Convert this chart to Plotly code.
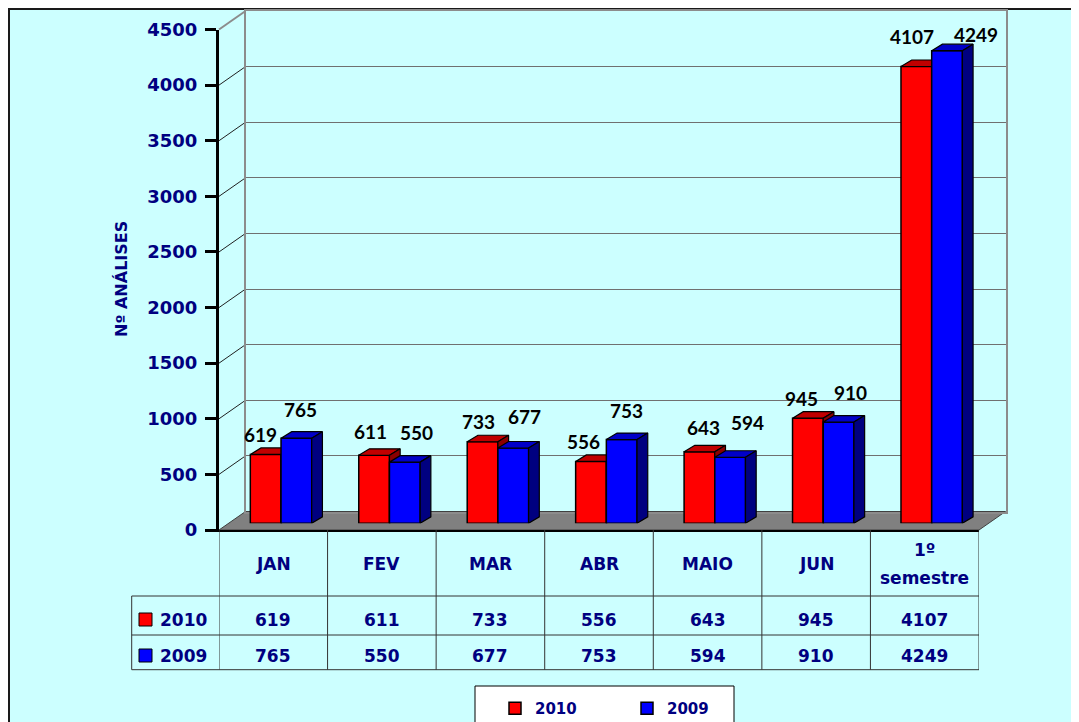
import plotly.graph_objects as go

# page has an 8px body margin; the figure fills the rest of the 1079x722 window
OFF = 8
W, H = 1079 - OFF, 722 - OFF

# ---------------- data ----------------
categories = ["JAN", "FEV", "MAR", "ABR", "MAIO", "JUN", "1º semestre"]
series_names = ["2010", "2009"]
values_2010 = [619, 611, 733, 556, 643, 945, 4107]
values_2009 = [765, 550, 677, 753, 594, 910, 4249]
y_max = 4500
y_step = 500
axis_title = "Nº ANÁLISES"

# label nudges in px (horizontal from bar centre, vertical above bar top)
lab_dx_2010 = [-5, -4, -4, -8, 4, -6, -4]
lab_dy_2010 = [20, 24, 20, 20, 24, 20, 30]
lab_dx_2009 = [4, 12, 11, 5, 17, 12, 29]
lab_dy_2009 = [29, 30, 31, 29, 35, 30, 16]

# ---------------- styles / geometry (window pixels) ----------------
NAVY = "#000080"
BG = "#CCFFFF"
RED, RED_TOP, RED_SIDE = "#FF0000", "#C00000", "#8B0000"
BLUE, BLUE_TOP, BLUE_SIDE = "#0000FF", "#0000C8", "#000080"
TXT = "DejaVu Sans"
LBL = "Lato"


def fx(px):
    return (px - OFF) / W


def fy(py):
    return 1 - (py - OFF) / H


FRONT_L, FRONT_R, FRONT_B, FRONT_T = 219, 979, 530, 29.5
DEPTH_X, DEPTH_Y = 26.5, 18.5
BAR_L, BAR_R, BAR_B = 226.8, 985.9, 523.3
BAR_DX, BAR_DY = 10.7, 6.5
scale = (FRONT_B - FRONT_T) / y_max  # px per unit
BAR_T = BAR_B - y_max * scale
WALL_L, WALL_R = FRONT_L + DEPTH_X, FRONT_R + DEPTH_X
WALL_B, WALL_T = FRONT_B - DEPTH_Y, FRONT_T - DEPTH_Y
n = len(categories)
cat_px = (BAR_R - BAR_L) / n
bar_w = 30.7 / cat_px
ddx = BAR_DX / cat_px
ddy = BAR_DY / scale

TABLE_LEFT = 131.7
ROW_HEAD_B, ROW1_B, ROW2_B = 596, 635, 669.7
HEAD_Y, ROW1_Y, ROW2_Y = 563.5, 619.5, 655.5
HEAD_GAP = 28

fig = go.Figure()

# dummy traces to fix subplot order
fig.add_trace(go.Scatter(x=[None], y=[None], xaxis="x", yaxis="y",
                         showlegend=False, hoverinfo="skip"))
fig.add_trace(go.Scatter(x=[None], y=[None], xaxis="x2", yaxis="y2",
                         showlegend=False, hoverinfo="skip"))


def add_series(vals, name, front, top, side, off, xa, ya):
    fig.add_trace(go.Bar(
        x=list(range(n)), y=vals, width=bar_w, offset=off,
        marker=dict(color=front, line=dict(color="black", width=1.5)),
        name=name, xaxis=xa, yaxis=ya, hoverinfo="skip"))
    for i, v in enumerate(vals):
        xl = i + off
        xr = xl + bar_w
        # top face
        fig.add_trace(go.Scatter(
            x=[xl, xr, xr + ddx, xl + ddx, xl],
            y=[v, v, v + ddy, v + ddy, v],
            mode="lines", fill="toself", fillcolor=top,
            line=dict(color="black", width=1.2),
            xaxis=xa, yaxis=ya, showlegend=False, hoverinfo="skip"))
        # side face
        fig.add_trace(go.Scatter(
            x=[xr, xr, xr + ddx, xr + ddx, xr],
            y=[0, v, v + ddy, ddy, 0],
            mode="lines", fill="toself", fillcolor=side,
            line=dict(color="black", width=1.2),
            xaxis=xa, yaxis=ya, showlegend=False, hoverinfo="skip"))


add_series(values_2010, series_names[0], RED, RED_TOP, RED_SIDE, -bar_w, "x3", "y3")
add_series(values_2009, series_names[1], BLUE, BLUE_TOP, BLUE_SIDE, 0, "x4", "y4")

shapes = []
# background with border
shapes.append(dict(type="rect", xref="paper", yref="paper", layer="below",
                   x0=fx(9), y0=fy(9), x1=fx(1079 + 20), y1=fy(722 + 20),
                   fillcolor=BG, line=dict(color="#1a1a1a", width=2)))
# floor
shapes.append(dict(type="path", xref="paper", yref="paper", layer="below",
                   path=(f"M{fx(FRONT_L)},{fy(FRONT_B)} L{fx(FRONT_R)},{fy(FRONT_B)} "
                         f"L{fx(WALL_R)},{fy(WALL_B)} L{fx(WALL_L)},{fy(WALL_B)} Z"),
                   fillcolor="#808080", line=dict(color="#404040", width=1)))
# side-wall diagonals
for v in range(y_step, y_max + 1, y_step):
    shapes.append(dict(type="line", xref="paper", yref="paper", layer="below",
                       x0=fx(FRONT_L), y0=fy(FRONT_B - v * scale),
                       x1=fx(WALL_L), y1=fy(WALL_B - v * scale),
                       line=dict(color="#8c8c8c" if v == y_max else "#202020",
                                 width=2 if v == y_max else 1)))
# table grid
TL = dict(color="#333333", width=1)
for k in range(n + 1):
    shapes.append(dict(type="line", xref="x2", yref="paper",
                       x0=k - 0.5, x1=k - 0.5, y0=fy(FRONT_B), y1=fy(ROW2_B), line=TL))
shapes.append(dict(type="line", xref="paper", yref="paper",
                   x0=fx(TABLE_LEFT), x1=fx(TABLE_LEFT), y0=fy(ROW_HEAD_B), y1=fy(ROW2_B), line=TL))
for yy in (ROW_HEAD_B, ROW1_B, ROW2_B):
    shapes.append(dict(type="line", xref="paper", yref="paper",
                       x0=fx(TABLE_LEFT), x1=fx(FRONT_R), y0=fy(yy), y1=fy(yy), line=TL))
# table keys
for (yc, col) in ((ROW1_Y, RED), (ROW2_Y, BLUE)):
    shapes.append(dict(type="rect", xref="paper", yref="paper",
                       x0=fx(139), x1=fx(152), y0=fy(yc - 6.5), y1=fy(yc + 6.5),
                       fillcolor=col, line=dict(color="black", width=1)))
# legend box
shapes.append(dict(type="rect", xref="paper", yref="paper",
                   x0=fx(475), x1=fx(734), y0=fy(686), y1=fy(722 + 20),
                   fillcolor="white", line=dict(color="black", width=1)))

ann = []
ann.append(dict(text=axis_title, x=fx(121), y=fy(279), xref="paper", yref="paper",
                xanchor="center", yanchor="middle",
                textangle=-90, showarrow=False,
                font=dict(family=TXT, size=16, color=NAVY, weight="bold")))
tfont = dict(family=TXT, size=17, color=NAVY, weight="bold")
for i, c in enumerate(categories):
    words = c.split(" ")
    y0 = HEAD_Y - HEAD_GAP * (len(words) - 1) / 2
    for j, wd in enumerate(words):
        ann.append(dict(text=wd, x=i, y=fy(y0 + j * HEAD_GAP), xref="x2", yref="paper",
                        xanchor="center", yanchor="middle", showarrow=False, font=tfont))
    ann.append(dict(text=str(values_2010[i]), x=i, y=fy(ROW1_Y), xref="x2", yref="paper",
                    xanchor="center", yanchor="middle", showarrow=False, font=tfont))
    ann.append(dict(text=str(values_2009[i]), x=i, y=fy(ROW2_Y), xref="x2", yref="paper",
                    xanchor="center", yanchor="middle", showarrow=False, font=tfont))
for name, yc in zip(series_names, (ROW1_Y, ROW2_Y)):
    ann.append(dict(text=name, x=fx(158), y=fy(yc), xref="paper", yref="paper",
                    xanchor="left", yanchor="middle", showarrow=False, font=tfont))
lfont = dict(family=LBL, size=19, color="black", weight="bold")
for i in range(n):
    ann.append(dict(text=str(values_2010[i]), x=i - bar_w / 2, y=values_2010[i],
                    xref="x3", yref="y3", showarrow=False,
                    xanchor="center", yanchor="middle",
                    xshift=lab_dx_2010[i], yshift=lab_dy_2010[i], font=lfont))
    ann.append(dict(text=str(values_2009[i]), x=i + bar_w / 2, y=values_2009[i],
                    xref="x3", yref="y3", showarrow=False,
                    xanchor="center", yanchor="middle",
                    xshift=lab_dx_2009[i], yshift=lab_dy_2009[i], font=lfont))

hidden = dict(visible=False, fixedrange=True)
fig.update_layout(
    width=W, height=H,
    margin=dict(l=0, r=0, t=0, b=0, autoexpand=False),
    paper_bgcolor="white", plot_bgcolor="rgba(0,0,0,0)",
    barmode="overlay", hovermode=False,
    xaxis=dict(domain=[fx(WALL_L), fx(WALL_R)], range=[0, 1], anchor="y",
               showline=True, mirror=True, linecolor="#8c8c8c", linewidth=2,
               showgrid=False, showticklabels=False, ticks="", zeroline=False),
    yaxis=dict(domain=[fy(WALL_B), fy(WALL_T)], range=[0, y_max], anchor="x",
               dtick=y_step, showgrid=True, gridcolor="#707070", gridwidth=1,
               showline=True, mirror=True, linecolor="#8c8c8c", linewidth=2,
               showticklabels=False, ticks="", zeroline=False),
    xaxis2=dict(domain=[fx(FRONT_L), fx(FRONT_R)], range=[-0.5, n - 0.5], anchor="y2",
                showline=True, linecolor="black", linewidth=2, showgrid=False,
                showticklabels=False, ticks="", zeroline=False),
    yaxis2=dict(domain=[fy(FRONT_B), fy(FRONT_T)], range=[0, y_max], anchor="x2",
                dtick=y_step, ticks="outside", ticklen=11, tickwidth=3, tickcolor="black",
                ticklabelstandoff=4,
                showline=True, linewidth=3, linecolor="black", showgrid=False,
                zeroline=False, tickfont=dict(family=TXT, size=18, color=NAVY, weight="bold")),
    xaxis3=dict(domain=[fx(BAR_L), fx(BAR_R)], range=[-0.5, n - 0.5], anchor="y3", **hidden),
    yaxis3=dict(domain=[fy(BAR_B), fy(BAR_T)], range=[0, y_max], anchor="x3", **hidden),
    xaxis4=dict(overlaying="x3", range=[-0.5, n - 0.5], anchor="y4", **hidden),
    yaxis4=dict(overlaying="y3", range=[0, y_max], anchor="x4", **hidden),
    showlegend=True,
    legend=dict(orientation="h", x=fx(495), y=fy(692), xanchor="left", yanchor="top",
                bgcolor="rgba(0,0,0,0)", borderwidth=0, traceorder="normal",
                entrywidth=87, entrywidthmode="pixels",
                font=dict(family=TXT, size=15, color=NAVY, weight="bold")),
    shapes=shapes, annotations=ann,
)

fig.write_html("out.html")
